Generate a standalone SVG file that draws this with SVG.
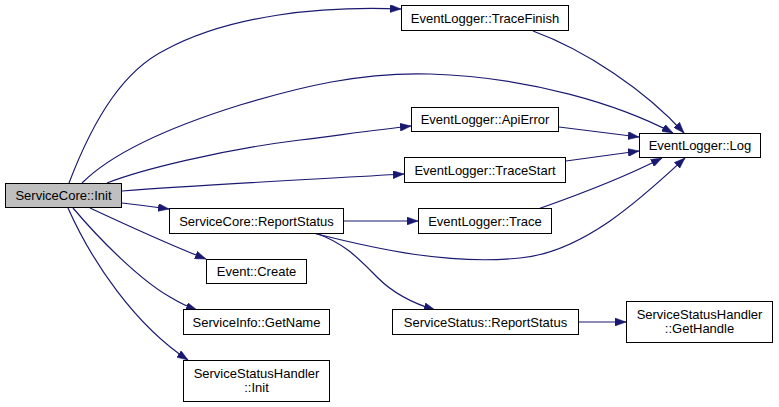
<svg xmlns="http://www.w3.org/2000/svg" width="779" height="407" viewBox="0 0 779 407">
<style>
.node rect{fill:#ffffff;stroke:#000000;stroke-width:1}
.node.root rect{fill:#bfbfbf}
.node text{font-family:"Liberation Sans",Arial,sans-serif;font-size:13px;fill:#000000;text-anchor:middle}
.edges path{fill:none;stroke:#191970;stroke-width:1.2;marker-end:url(#arrow)}
</style>
<defs>
<marker id="arrow" markerUnits="userSpaceOnUse" viewBox="0 0 11 8" refX="11" refY="4" markerWidth="11" markerHeight="8" orient="auto">
<path d="M0,0 L11,4 L0,8 z" fill="#191970" stroke="#191970" stroke-width="0.5"/>
</marker>
</defs>
<rect width="779" height="407" fill="#ffffff"/>
<g class="edges" id="edges">
<path d="M69,183 C95,115 125,70 165,50 C230,15 320,6 401,9"/>
<path d="M82,183 C110,155 160,130 240,105 C300,87 360,72 430,74 C530,77 620,105 673,133"/>
<path d="M533,31 C585,50 645,90 684,133"/>
<path d="M107,183 C140,170 220,150 300,140 C340,135 375,130 411,126"/>
<path d="M122,191 C200,185 300,180 404,174"/>
<path d="M122,203 C140,205 155,207 169,209"/>
<path d="M90,208 C120,222 165,243 206,259"/>
<path d="M73,208 C100,240 140,280 170,297 C180,303 188,307 197,310"/>
<path d="M68,208 C92,262 135,325 188,360"/>
<path d="M344,221 L418,221"/>
<path d="M313,233 C380,250 450,265 520,258 C585,252 645,195 685,158"/>
<path d="M538,209 C575,196 625,177 662,158"/>
<path d="M566,161 L639,151"/>
<path d="M559,127 L639,137"/>
<path d="M315,233 C345,243 360,260 378,278 C393,293 412,303 435,310"/>
<path d="M579,322 L626,322"/>
</g>
<g class="node root" id="n_init"><rect x="5.5" y="183.5" width="116" height="24"/><text x="63.5" y="200">ServiceCore::Init</text></g>
<g class="node" id="n_tracefinish"><rect x="401.5" y="5.5" width="167" height="25"/><text x="485" y="22.5">EventLogger::TraceFinish</text></g>
<g class="node" id="n_apierror"><rect x="411.5" y="107.5" width="147" height="24"/><text x="485" y="124">EventLogger::ApiError</text></g>
<g class="node" id="n_tracestart"><rect x="404.5" y="157.5" width="161" height="25"/><text x="485" y="174.5">EventLogger::TraceStart</text></g>
<g class="node" id="n_log"><rect x="639.5" y="133.5" width="121" height="24"/><text x="700" y="150">EventLogger::Log</text></g>
<g class="node" id="n_reportstatus"><rect x="169.5" y="208.5" width="174" height="25"/><text x="256.5" y="225.5">ServiceCore::ReportStatus</text></g>
<g class="node" id="n_trace"><rect x="418.5" y="208.5" width="133" height="25"/><text x="485" y="225.5">EventLogger::Trace</text></g>
<g class="node" id="n_create"><rect x="206.5" y="259.5" width="100" height="24"/><text x="256.5" y="276">Event::Create</text></g>
<g class="node" id="n_getname"><rect x="183.5" y="309.5" width="146" height="25"/><text x="256.5" y="326.5">ServiceInfo::GetName</text></g>
<g class="node" id="n_sshinit"><rect x="183.5" y="360.5" width="146" height="41"/><text x="256.5" y="378">ServiceStatusHandler</text><text x="256.5" y="392">::Init</text></g>
<g class="node" id="n_ssreport"><rect x="392.5" y="309.5" width="186" height="25"/><text x="485.5" y="326.5">ServiceStatus::ReportStatus</text></g>
<g class="node" id="n_gethandle"><rect x="626.5" y="301.5" width="146" height="41"/><text x="699.5" y="319">ServiceStatusHandler</text><text x="699.5" y="333">::GetHandle</text></g>
</svg>
